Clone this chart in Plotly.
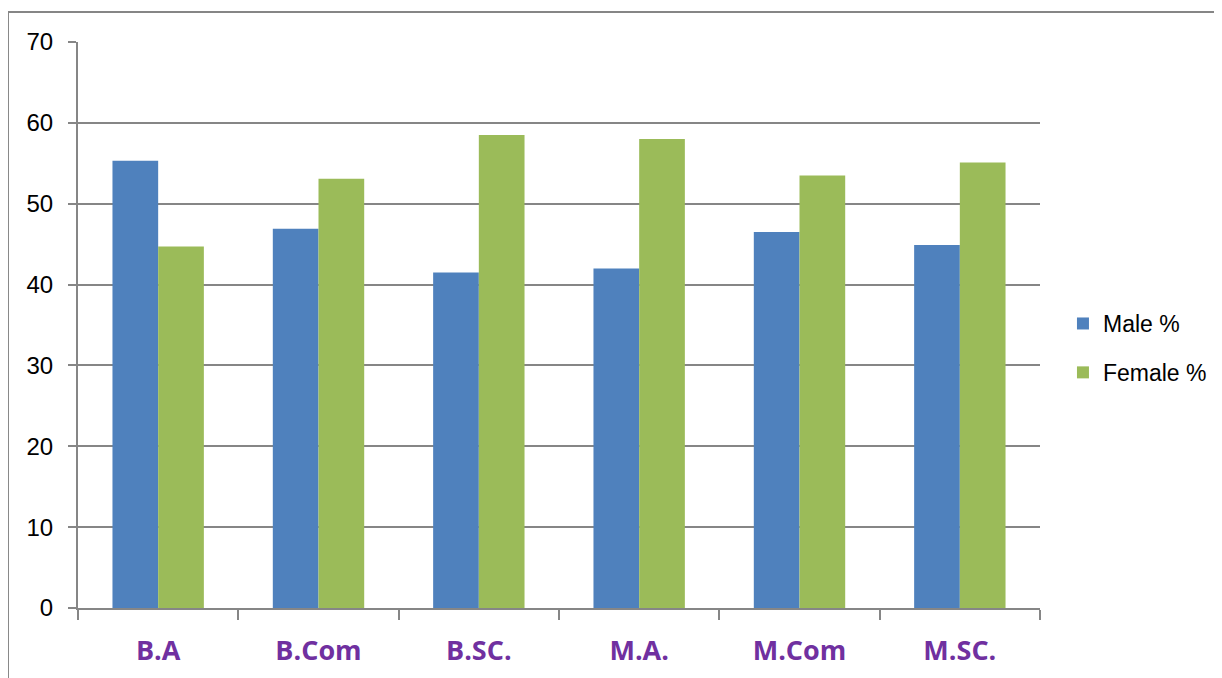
import plotly.graph_objects as go

courses = ['B.A', 'B.Com', 'B.SC.', 'M.A.', 'M.Com', 'M.SC.']
male_pct = [55.3, 46.9, 41.5, 42.0, 46.5, 44.9]
female_pct = [44.7, 53.1, 58.5, 58.0, 53.5, 55.1]

fig = go.Figure()
fig.add_trace(go.Bar(x=courses, y=male_pct, name='Male %', marker=dict(color='#4F81BD', line=dict(width=0)),
                     legendgroup='m'))
fig.add_trace(go.Bar(x=courses, y=female_pct, name='Female %', marker=dict(color='#9BBB59', line=dict(width=0)),
                     legendgroup='f'))

# page body adds 8px margin, so the figure is 8px smaller than the window
fig.update_layout(
    width=1214, height=670,
    margin=dict(l=70, r=182, t=34, b=70, autoexpand=False),
    paper_bgcolor='white', plot_bgcolor='white',
    barmode='group', bargap=0.43, bargroupgap=0,
    font=dict(family="Liberation Sans, Noto Sans, sans-serif", size=18, color='black'),
    showlegend=True,
    legend=dict(xref='container', yref='container', x=0.869, y=0.4925, xanchor='left', yanchor='middle',
                traceorder='grouped', tracegroupgap=16, font=dict(size=23), itemwidth=30),
    xaxis=dict(showgrid=False, showline=True, linecolor='#868686', linewidth=2, automargin=False,
               ticks='outside', tickson='boundaries', ticklen=10, tickcolor='#868686', tickwidth=2,
               ticklabelstandoff=18,
               tickfont=dict(size=27, color='#7030A0', family="Open Sans, Noto Sans, sans-serif", weight='bold')),
    yaxis=dict(range=[0, 70], dtick=10, showgrid=True, gridcolor='#868686', gridwidth=2, automargin=False,
               showline=True, linecolor='#868686', linewidth=2, zeroline=False,
               ticks='outside', ticklen=8, tickcolor='#868686', tickwidth=2,
               ticklabelstandoff=10, tickfont=dict(size=24)),
    shapes=[dict(type='rect', xref='paper', yref='paper', x0=-0.0728, x1=1.25, y0=-0.2, y1=1.053,
                 line=dict(color='#868686', width=2), layer='below')],
)

fig.write_html("out.html")
